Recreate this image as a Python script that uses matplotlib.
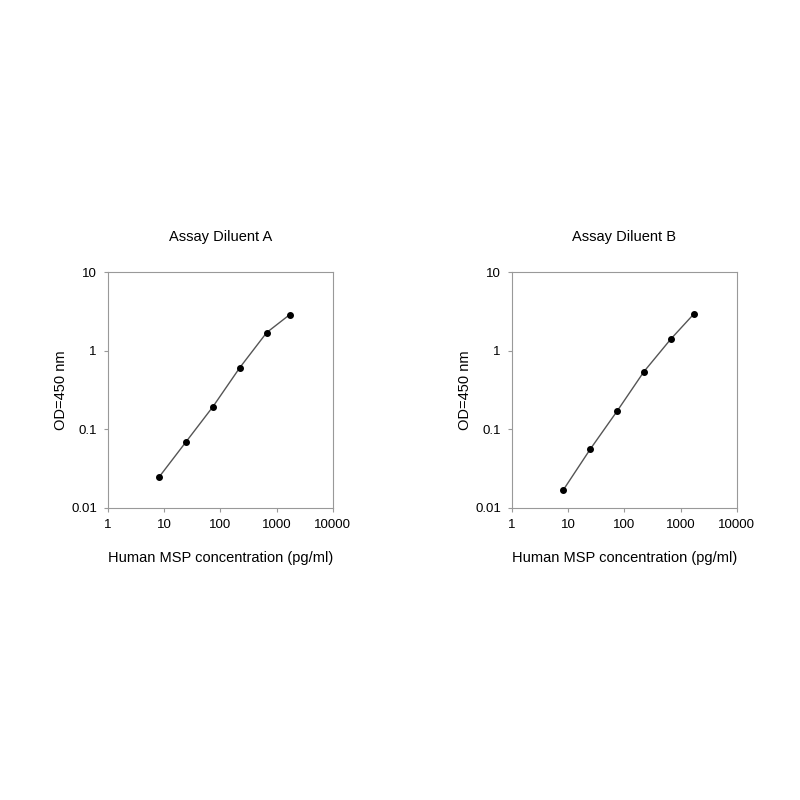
import matplotlib
matplotlib.use("Agg")
import matplotlib.pyplot as plt
from matplotlib.ticker import FixedLocator, FixedFormatter, NullLocator

conc = [8.2, 24.7, 74, 222, 667, 1700]
od_a = [0.025, 0.07, 0.195, 0.61, 1.7, 2.86]
od_b = [0.017, 0.056, 0.17, 0.54, 1.4, 2.9]
titles = ["Assay Diluent A", "Assay Diluent B"]
x_ticks = [1, 10, 100, 1000, 10000]
x_labels = ["1", "10", "100", "1000", "10000"]
y_ticks = [0.01, 0.1, 1, 10]
y_labels = ["0.01", "0.1", "1", "10"]

plt.rcParams['font.family'] = ['Liberation Sans', 'DejaVu Sans']
fig = plt.figure(figsize=(8, 8), dpi=100)

for left, od, title in [(0.135, od_a, titles[0]), (0.64, od_b, titles[1])]:
    ax = fig.add_axes([left, 0.365, 0.281, 0.295])
    ax.plot(conc, od, color="#555555", lw=1, marker="o", ms=4,
            mfc="black", mec="black")
    ax.set_xscale("log")
    ax.set_yscale("log")
    ax.set_xlim(1, 10000)
    ax.set_ylim(0.01, 10)
    ax.xaxis.set_major_locator(FixedLocator(x_ticks))
    ax.xaxis.set_major_formatter(FixedFormatter(x_labels))
    ax.yaxis.set_major_locator(FixedLocator(y_ticks))
    ax.yaxis.set_major_formatter(FixedFormatter(y_labels))
    ax.xaxis.set_minor_locator(NullLocator())
    ax.yaxis.set_minor_locator(NullLocator())
    for s in ax.spines.values():
        s.set_color("#999999")
    ax.tick_params(length=3, color="#999999", labelsize=9.5, pad=5)
    ax.set_title(title, fontsize=10.5, pad=22)
    ax.set_xlabel("Human MSP concentration (pg/ml)", fontsize=10.5, labelpad=14)
    ax.set_ylabel("OD=450 nm", fontsize=10.5, labelpad=2)

fig.savefig("out.png", dpi=100)
